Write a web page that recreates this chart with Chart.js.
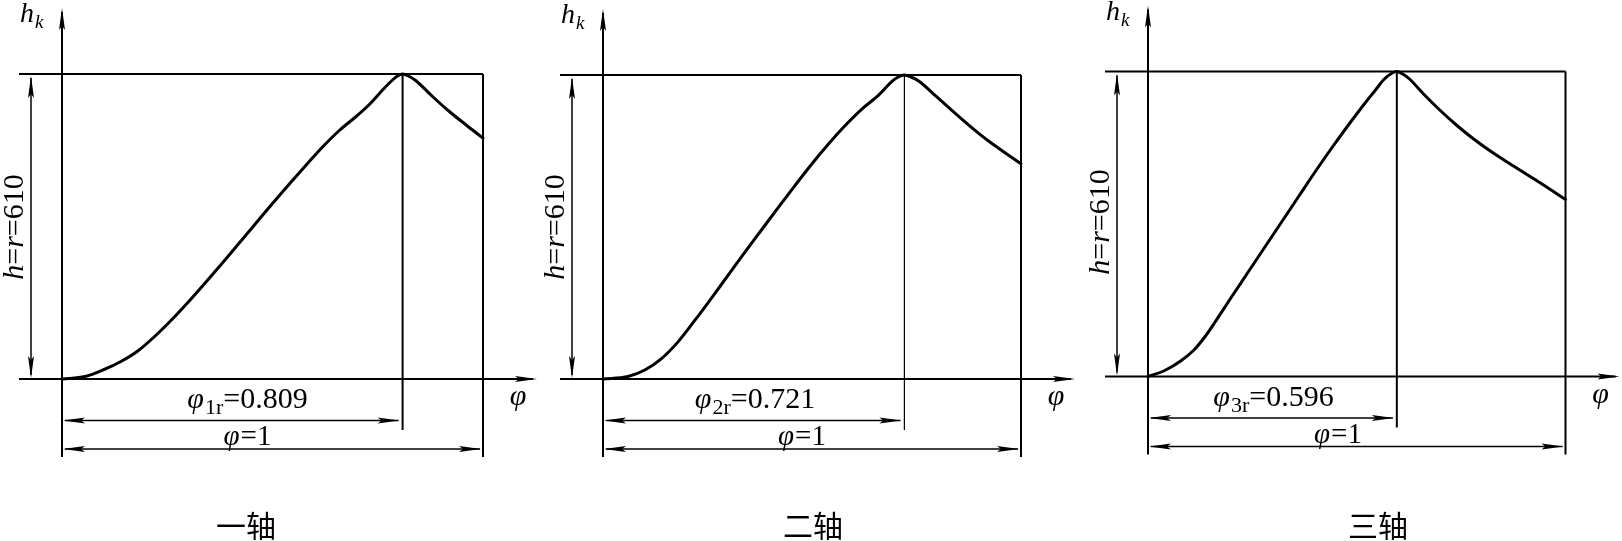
<!DOCTYPE html>
<html><head><meta charset="utf-8">
<script src="https://cdn.jsdelivr.net/npm/chart.js@4/dist/chart.umd.min.js"></script>
<style>
html,body{margin:0;padding:0;background:#fff;overflow:hidden}
#wrap{position:relative;width:1622px;height:541px;background:#fff}
canvas{position:absolute;top:0}
</style></head><body>
<div id="wrap">
<canvas id="c1" width="541" height="541" style="left:0px"></canvas>
<canvas id="c2" width="540" height="541" style="left:541px"></canvas>
<canvas id="c3" width="541" height="541" style="left:1081px"></canvas>
</div>
<script>
// ---- data (phi = relative cam angle, hk = follower lift in mm) ----
const phi1 = [0, 0.055, 0.10, 0.14, 0.18, 0.22, 0.26, 0.30, 0.34, 0.38, 0.42, 0.46, 0.50, 0.54, 0.58, 0.62, 0.66, 0.70, 0.73, 0.755, 0.78, 0.797, 0.809, 0.825, 0.84, 0.88, 0.92, 0.96, 1.0];
const hk1  = [0, 5, 19, 35, 56, 85, 118, 154, 192, 231, 271, 311, 351, 390, 428, 465, 498, 526, 549, 572, 594, 606, 610, 605, 597, 565, 535, 508, 482];
const phi2 = [0, 0.06, 0.10, 0.14, 0.18, 0.22, 0.26, 0.30, 0.34, 0.38, 0.42, 0.46, 0.50, 0.54, 0.58, 0.62, 0.66, 0.69, 0.706, 0.721, 0.737, 0.755, 0.80, 0.84, 0.88, 0.92, 0.96, 1.0];
const hk2  = [0, 5, 18, 41, 75, 118, 163, 209, 255, 300, 345, 389, 432, 472, 509, 542, 570, 596, 606, 610, 606, 598, 565, 535, 506, 479, 455, 432];
const phi3 = [0, 0.04, 0.08, 0.11, 0.135, 0.16, 0.20, 0.24, 0.28, 0.32, 0.36, 0.40, 0.44, 0.48, 0.52, 0.545, 0.565, 0.585, 0.596, 0.61, 0.625, 0.66, 0.70, 0.74, 0.78, 0.82, 0.86, 0.90, 0.94, 1.0];
const hk3  = [0, 12, 32, 53, 78, 108, 159, 209, 259, 309, 359, 409, 457, 503, 547, 573, 594, 607, 610, 605, 596, 565, 532, 502, 475, 451, 429, 408, 387, 354];
const peakPhi    = [0.809, 0.721, 0.596];
const peakLabels = ['0.809', '0.721', '0.596'];
const subLabels  = ['1r', '2r', '3r'];
const shaftNames = ['一轴', '二轴', '三轴'];
const liftH = 610;
const liftLabel = ['h', '=', 'r', '=610'];

const SERIF = '"Liberation Serif","Times New Roman",serif';
const CJK = '"Noto Sans CJK SC","Noto Sans CJK JP",sans-serif';

// ---- layout (page pixels) ----
const panels = [
  {id:'c1', left:0,    width:541, x0:62,   x1:483,    yb:379,   yt:74,   peakW:2,   rCx:247.5,  oneCx:247.5, nameCx:246, liftCy:227},
  {id:'c2', left:541,  width:540, x0:603,  x1:1021,   yb:379,   yt:75,   peakW:1.2, rCx:755,    oneCx:802,   nameCx:813, liftCy:227},
  {id:'c3', left:1081, width:541, x0:1148, x1:1565.5, yb:376.5, yt:71.5, peakW:2,   rCx:1273.5, oneCx:1338,  nameCx:1378, liftCy:222}
];
const series = [[phi1, hk1], [phi2, hk2], [phi3, hk3]];
const H = 541;

function arrow(ctx, tx, ty, dx, dy, len, hw) {
  len = len || 22; hw = hw || 3;
  const bx = tx - dx * len, by = ty - dy * len;
  const px = -dy, py = dx;
  ctx.beginPath();
  ctx.moveTo(tx, ty);
  ctx.lineTo(bx + px * hw, by + py * hw);
  ctx.lineTo(bx + dx * 4, by + dy * 4);
  ctx.lineTo(bx - px * hw, by - py * hw);
  ctx.closePath();
  ctx.fill();
}
function line(ctx, xa, ya, xb, yb, w) {
  ctx.lineWidth = w;
  ctx.beginPath(); ctx.moveTo(xa, ya); ctx.lineTo(xb, yb); ctx.stroke();
}
function rich(ctx, segs, cx, base) {
  let total = 0;
  segs.forEach(s => { ctx.font = s.f; total += ctx.measureText(s.t).width + (s.gap || 0); });
  let x = cx - total / 2;
  ctx.textAlign = 'left'; ctx.textBaseline = 'alphabetic';
  segs.forEach(s => { ctx.font = s.f; ctx.fillText(s.t, x, base + (s.dy || 0)); x += ctx.measureText(s.t).width + (s.gap || 0); });
}

panels.forEach((P, i) => {
  const [px, py] = series[i];
  const lx0 = P.x0 - P.left, lx1 = P.x1 - P.left;
  const ux = lx1 - lx0;
  const xmin = -lx0 / ux, xmax = (P.width - lx0) / ux;
  const uy = (P.yb - P.yt) / liftH;
  const ymax = liftH + P.yt / uy, ymin = -(H - P.yb) / uy;

  const deco = {
    id: 'deco' + i,
    beforeDatasetsDraw(chart) {
      const ctx = chart.ctx, xs = chart.scales.x, ys = chart.scales.y;
      const x0 = xs.getPixelForValue(0), x1 = xs.getPixelForValue(1), xr = xs.getPixelForValue(peakPhi[i]);
      const yb = ys.getPixelForValue(0), yt = ys.getPixelForValue(liftH);
      ctx.save();
      ctx.strokeStyle = '#000'; ctx.fillStyle = '#000'; ctx.lineCap = 'butt';
      line(ctx, x0, yt - 62, x0, yb + 78, 2);
      arrow(ctx, x0, yt - 66, 0, -1, 22, 3);
      line(ctx, x0 - 43, yb, x1 + 50, yb, 2);
      arrow(ctx, x1 + 54, yb, 1, 0, 22, 3);
      line(ctx, x0 - 43, yt, x1, yt, 2);
      line(ctx, x1, yt, x1, yb + 78, 2);
      line(ctx, xr, yt, xr, yb + 51, P.peakW);
      const dx = x0 - 31;
      line(ctx, dx, yt + 4, dx, yb - 4, 1.5);
      arrow(ctx, dx, yt + 2, 0, -1, 22, 3);
      arrow(ctx, dx, yb - 1, 0, 1, 22, 3);
      const yr = yb + 41.5;
      line(ctx, x0 + 3, yr, xr - 4, yr, 1.5);
      arrow(ctx, x0 + 1, yr, -1, 0, 22, 3);
      arrow(ctx, xr - 3, yr, 1, 0, 22, 3);
      const y1 = yb + 70;
      line(ctx, x0 + 3, y1, x1 - 3, y1, 1.5);
      arrow(ctx, x0 + 1, y1, -1, 0, 22, 3);
      arrow(ctx, x1 - 2, y1, 1, 0, 22, 3);
      ctx.restore();
    },
    afterDraw(chart) {
      const ctx = chart.ctx, xs = chart.scales.x, ys = chart.scales.y;
      const x0 = xs.getPixelForValue(0), x1 = xs.getPixelForValue(1);
      const yb = ys.getPixelForValue(0), yt = ys.getPixelForValue(liftH);
      ctx.save();
      ctx.fillStyle = '#000';
      ctx.textAlign = 'left'; ctx.textBaseline = 'alphabetic';
      ctx.font = `italic 28px ${SERIF}`;
      ctx.fillText('h', x0 - 42, yt - 52);
      const hw = ctx.measureText('h').width;
      ctx.font = `italic 19px ${SERIF}`;
      ctx.fillText('k', x0 - 42 + hw + 1, yt - 46);
      ctx.font = `italic 30px ${SERIF}`;
      ctx.textAlign = 'center';
      ctx.fillText('φ', x1 + 35, yb + 26);
      rich(ctx, [
        {t:'φ', f:`italic 30px ${SERIF}`, gap:1},
        {t:subLabels[i], f:`22px ${SERIF}`, dy:6, gap:0},
        {t:'=' + peakLabels[i], f:`30px ${SERIF}`}
      ], P.rCx - P.left, yb + 29);
      rich(ctx, [
        {t:'φ', f:`italic 29px ${SERIF}`, gap:1},
        {t:'=1', f:`29px ${SERIF}`}
      ], P.oneCx - P.left, yb + 66);
      ctx.save();
      ctx.translate(x0 - 49, P.liftCy);
      ctx.rotate(-Math.PI / 2);
      rich(ctx, [
        {t:liftLabel[0], f:`italic 30px ${SERIF}`},
        {t:liftLabel[1], f:`30px ${SERIF}`},
        {t:liftLabel[2], f:`italic 30px ${SERIF}`},
        {t:liftLabel[3], f:`30px ${SERIF}`}
      ], 0, 10);
      ctx.restore();
      ctx.font = `30px ${CJK}`;
      ctx.textAlign = 'center'; ctx.textBaseline = 'middle';
      ctx.fillText(shaftNames[i], P.nameCx - P.left, 526);
      ctx.restore();
    }
  };

  new Chart(document.getElementById(P.id), {
    type: 'line',
    data: {
      datasets: [{
        data: px.map((v, k) => ({x: v, y: py[k]})),
        borderColor: '#000',
        borderWidth: 3,
        pointRadius: 0,
        cubicInterpolationMode: 'monotone',
        fill: false,
        borderCapStyle: 'round',
        borderJoinStyle: 'round'
      }]
    },
    options: {
      responsive: false,
      animation: false,
      events: [],
      layout: {padding: 0},
      plugins: {legend: {display: false}, tooltip: {enabled: false}, title: {display: false}},
      scales: {
        x: {type: 'linear', display: false, min: xmin, max: xmax},
        y: {type: 'linear', display: false, min: ymin, max: ymax}
      }
    },
    plugins: [deco]
  });
});
</script>
</body></html>
